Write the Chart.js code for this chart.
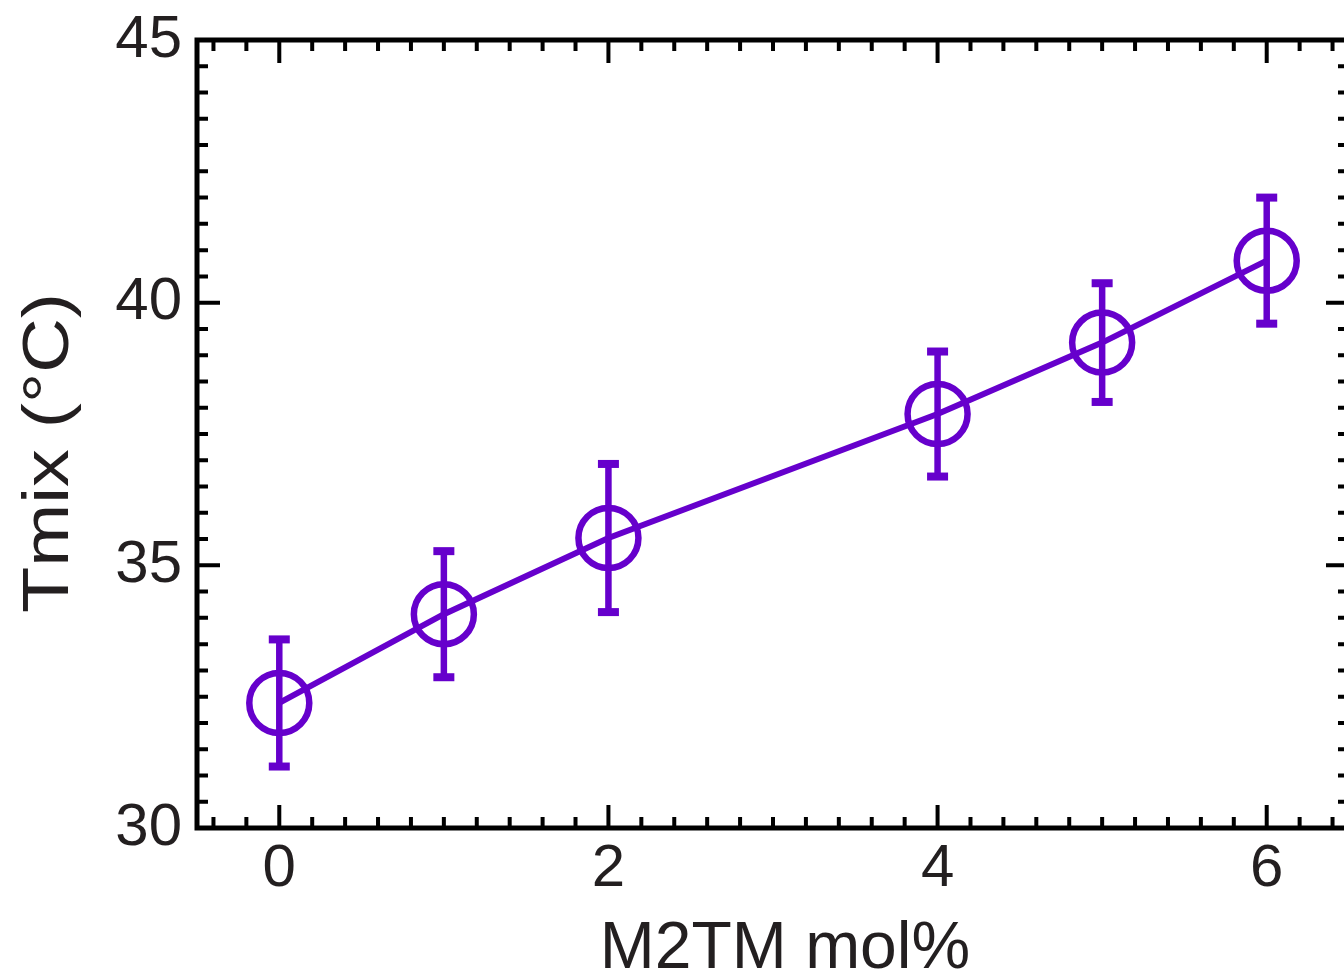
<!DOCTYPE html>
<html><head><meta charset="utf-8">
<script src="https://cdn.jsdelivr.net/npm/chart.js@4.4.1/dist/chart.umd.min.js"></script>
<style>
html,body{margin:0;padding:0;background:#fff;overflow:hidden;width:1344px;height:975px}
#wrap{width:1360px;height:975px;position:relative}
</style></head>
<body><div id="wrap"><canvas id="c" width="1360" height="975"></canvas></div>
<script>
// ---- data ----
const molPercent = [0, 1, 2, 4, 5, 6];
const tmix = [32.38, 34.07, 35.52, 37.88, 39.24, 40.80];
const tmixErr = [1.21, 1.20, 1.41, 1.19, 1.13, 1.20];
const xTickLabels = [0, 2, 4, 6];
const yTickLabels = [30, 35, 40, 45];
const xTitle = 'M2TM mol%';
const yTitle = 'Tmix (\u00B0C)';

const PURPLE = '#6600cc';
const INK = '#231f20';
const FONT = "'Liberation Sans', Arial, Helvetica, sans-serif";

const errorBars = {
  id: 'errorBars',
  afterDatasetsDraw(chart) {
    const ctx = chart.ctx, y = chart.scales.y;
    const meta = chart.getDatasetMeta(0);
    ctx.save();
    ctx.strokeStyle = PURPLE; ctx.fillStyle = PURPLE; ctx.lineWidth = 6.5;
    meta.data.forEach((pt, i) => {
      const yt = y.getPixelForValue(tmix[i] + tmixErr[i]);
      const yb = y.getPixelForValue(tmix[i] - tmixErr[i]);
      ctx.beginPath(); ctx.moveTo(pt.x, yt); ctx.lineTo(pt.x, yb); ctx.stroke();
      ctx.fillRect(pt.x - 10.5, yt - 4, 21, 8);
      ctx.fillRect(pt.x - 10.5, yb - 4, 21, 8);
    });
    ctx.restore();
  }
};

const frame = {
  id: 'frame',
  afterDraw(chart) {
    const ctx = chart.ctx, a = chart.chartArea, xs = chart.scales.x, ys = chart.scales.y;
    ctx.save();
    ctx.strokeStyle = '#000';
    ctx.lineWidth = 4;
    ctx.beginPath();
    for (let k = -2; k <= 32; k++) {
      const v = k / 5;
      const px = xs.getPixelForValue(v);
      const len = xTickLabels.includes(v) ? 23 : 11;
      ctx.moveTo(px, a.bottom); ctx.lineTo(px, a.bottom - len);
      ctx.moveTo(px, a.top); ctx.lineTo(px, a.top + len);
    }
    for (let k = 61; k <= 89; k++) {
      const v = k / 2;
      const py = ys.getPixelForValue(v);
      const len = yTickLabels.includes(v) ? 23 : 11;
      ctx.moveTo(a.left, py); ctx.lineTo(a.left + len, py);
      ctx.moveTo(a.right, py); ctx.lineTo(a.right - len, py);
    }
    ctx.stroke();
    ctx.lineWidth = 5;
    ctx.strokeRect(a.left, a.top, a.right - a.left, a.bottom - a.top);
    // axis titles
    ctx.fillStyle = INK;
    ctx.font = '66px ' + FONT;
    ctx.textAlign = 'center'; ctx.textBaseline = 'alphabetic';
    ctx.fillText(xTitle, 785, 968);
    ctx.font = '64px ' + FONT;
    const w = ctx.measureText(yTitle).width;
    ctx.translate(68, 453);
    ctx.rotate(-Math.PI / 2);
    ctx.scale(320 / w, 1);
    ctx.fillText(yTitle, 0, 0);
    ctx.restore();
  }
};

new Chart(document.getElementById('c'), {
  type: 'line',
  data: {
    datasets: [{
      data: molPercent.map((x, i) => ({ x, y: tmix[i] })),
      borderColor: PURPLE,
      borderWidth: 6,
      pointRadius: 30,
      pointBorderWidth: 6.5,
      pointBorderColor: PURPLE,
      pointBackgroundColor: 'rgba(0,0,0,0)',
      pointHoverRadius: 30,
      tension: 0,
      clip: false
    }]
  },
  options: {
    responsive: false,
    animation: false,
    devicePixelRatio: 1,
    layout: { autoPadding: false, padding: { left: 0, top: 40, right: 11, bottom: 0 } },
    plugins: { legend: { display: false }, tooltip: { enabled: false }, title: { display: false } },
    scales: {
      x: {
        type: 'linear', min: -0.5, max: 6.5,
        grid: { display: false, drawTicks: false },
        border: { display: false },
        afterBuildTicks: s => { s.ticks = xTickLabels.map(v => ({ value: v })); },
        afterFit: s => { s.height = 147; s.paddingLeft = 0; s.paddingRight = 0; s.paddingTop = 0; s.paddingBottom = 0; },
        ticks: { padding: 5, color: INK, font: { family: FONT, size: 60 }, maxRotation: 0, autoSkip: false,
                 callback: v => String(v) }
      },
      y: {
        type: 'linear', min: 30, max: 45,
        grid: { display: false, drawTicks: false },
        border: { display: false },
        afterBuildTicks: s => { s.ticks = yTickLabels.map(v => ({ value: v })); },
        afterFit: s => { s.width = 197; s.paddingLeft = 0; s.paddingRight = 0; s.paddingTop = 0; s.paddingBottom = 0; },
        ticks: { padding: 15, color: INK, font: { family: FONT, size: 60 }, autoSkip: false,
                 callback: v => String(v) }
      }
    }
  },
  plugins: [errorBars, frame]
});
</script>
</body></html>
